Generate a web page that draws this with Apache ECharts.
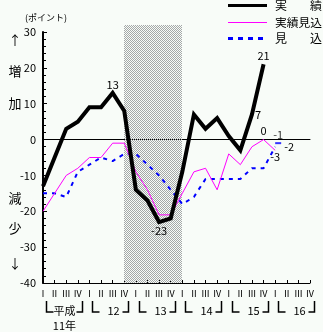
<!DOCTYPE html>
<html>
<head>
<meta charset="utf-8">
<script src="https://cdn.jsdelivr.net/npm/echarts@6/dist/echarts.min.js"></script>
<style>
  html, body { margin: 0; padding: 0; background: #f8fcf8; }
  #chart { width: 323px; height: 332px; }
</style>
</head>
<body>
<div id="chart"></div>
<script>
// Quarter tick labels, 平成11年 Ⅰ期 through 平成16年 Ⅳ期
const quarterLabels = [
  'Ⅰ','Ⅱ','Ⅲ','Ⅳ', 'Ⅰ','Ⅱ','Ⅲ','Ⅳ', 'Ⅰ','Ⅱ','Ⅲ','Ⅳ',
  'Ⅰ','Ⅱ','Ⅲ','Ⅳ', 'Ⅰ','Ⅱ','Ⅲ','Ⅳ', 'Ⅰ','Ⅱ','Ⅲ','Ⅳ'
];
const yearLabels = ['平成', '12', '13', '14', '15', '16'];
const yTicks = [-40, -30, -20, -10, 0, 10, 20, 30];

// 実績
const actualValues = [-13, -5, 3, 5, 9, 9, 13, 8, -14, -17, -23, -22, -9, 7, 3, 6, 1, -3, 7, 21, null, null, null, null];
// 実績見込
const estimateValues = [-20, -15, -10, -8, -5, -5, -1, -1, -9, -14, -21, -21, -15, -9, -8, -14, -4, -7, -2, 0, -3, null, null, null];
// 見込
const forecastValues = [-15, -15, -16, -9, -7, -5, -6, -4, -4, -7, -10, -14, -18, -16, -11, -11, -11, -11, -8, -8, -2, null, null, null];
// 見込 (前回) for the next quarter
const priorForecastValues = [null, null, null, null, null, null, null, null, null, null, null, null, null, null, null, null, null, null, null, null, -1, null, null, null];

// Labelled points: index -> [label position, distance]
const actualLabelAt = { 6: ['top', 3], 10: ['bottom', 3], 18: ['right', 3], 19: ['top', 3] };
const estimateLabelAt = { 19: ['top', 3], 20: ['bottom', 1] };
const forecastLabelAt = { 20: ['right', 9] };

// Recession band (index range on the quarter axis)
const bandFrom = 7, bandTo = 12;

const FONT = '"Noto Sans CJK JP", "DejaVu Sans", sans-serif';

// Labelled items get a tiny invisible symbol to carry their label
function withLabels(values, labelAt) {
  return values.map((v, i) => {
    if (labelAt[i] === undefined || v === null) return v;
    return {
      value: v,
      symbol: 'circle',
      symbolSize: 0.1,
      label: { show: true, position: labelAt[i][0], distance: labelAt[i][1],
               formatter: '{c}', color: '#000', fontSize: 11, fontFamily: FONT }
    };
  });
}

const chart = echarts.init(document.getElementById('chart'), null, { renderer: 'canvas' });

chart.setOption({
  animation: false,
  backgroundColor: '#f8fcf8',
  textStyle: { fontFamily: FONT },
  grid: { left: 43, right: 13, top: 32, bottom: 49, containLabel: false },
  legend: { show: false },
  xAxis: [
    {
      type: 'category',
      data: quarterLabels,
      boundaryGap: false,
      position: 'bottom',
      axisLine: { onZero: false, lineStyle: { color: '#000', width: 1 } },
      axisTick: { inside: true, length: 3, lineStyle: { color: '#000' } },
      axisLabel: { interval: 0, color: '#000', fontSize: 9, margin: 6, fontFamily: FONT },
      splitLine: { show: false }
    },
    {
      // zero reference line
      type: 'category',
      data: quarterLabels,
      boundaryGap: false,
      position: 'top',
      axisLine: { onZero: true, lineStyle: { color: '#000', width: 1 } },
      axisTick: { show: false },
      axisLabel: { show: false },
      splitLine: { show: false }
    }
  ],
  yAxis: {
    type: 'value',
    min: yTicks[0],
    max: yTicks[yTicks.length - 1],
    interval: 10,
    axisLine: { show: true, onZero: false, lineStyle: { color: '#000', width: 2 } },
    axisTick: { show: true, inside: true, length: 4, lineStyle: { color: '#000' } },
    minorTick: { show: true, splitNumber: 5, length: 3, lineStyle: { color: '#000' } },
    axisLabel: { color: '#000', fontSize: 11, margin: 7, fontFamily: FONT },
    splitLine: { show: false }
  },
  series: [
    {
      name: '見　　込',
      type: 'line',
      z: 3,
      data: withLabels(forecastValues, forecastLabelAt),
      symbol: 'none',
      lineStyle: { color: '#0000ff', width: 2, type: [4, 5] },
      itemStyle: { color: '#0000ff' }
    },
    {
      name: '見込(前回)',
      type: 'scatter',
      z: 3,
      data: priorForecastValues.map(v => v === null ? null : {
        value: v,
        label: { show: true, position: 'top', distance: 2, formatter: '{c}', color: '#000', fontSize: 11, fontFamily: FONT }
      }),
      symbol: 'rect',
      symbolSize: [6, 2],
      symbolOffset: [3, 0],
      itemStyle: { color: '#0000ff' }
    },
    {
      name: '実績見込',
      type: 'line',
      z: 4,
      data: withLabels(estimateValues, estimateLabelAt),
      symbol: 'none',
      lineStyle: { color: '#ff00ff', width: 1 },
      itemStyle: { color: '#ff00ff' }
    },
    {
      name: '実　　績',
      type: 'line',
      z: 5,
      data: withLabels(actualValues, actualLabelAt),
      symbol: 'none',
      lineStyle: { color: '#000', width: 4, join: 'miter' },
      itemStyle: { color: '#000' }
    }
  ]
});

// Checkered fill for the recession band
const pat = document.createElement('canvas');
pat.width = 2; pat.height = 2;
const pctx = pat.getContext('2d');
pctx.fillStyle = '#a4a8a8';
pctx.fillRect(0, 0, 1, 1);
pctx.fillRect(1, 1, 1, 1);

const xPix = i => chart.convertToPixel({ xAxisIndex: 0 }, i);
const yPix = v => chart.convertToPixel({ yAxisIndex: 0 }, v);

const bandLeft = Math.round(xPix(bandFrom));
const bandRight = Math.round(xPix(bandTo));
const bandTop = Math.round(yPix(yTicks[yTicks.length - 1])) - 7;
const bandBottom = Math.round(yPix(yTicks[0]));

const txt = (x, y, text, size, align) => ({
  type: 'text', x: x, y: y, silent: true,
  style: { text: text, fontSize: size, fill: '#000', fontFamily: FONT, align: align || 'center', verticalAlign: 'middle' }
});

const graphics = [
  {
    type: 'rect', z: 1, silent: true,
    shape: { x: bandLeft, y: bandTop, width: bandRight - bandLeft, height: bandBottom - bandTop },
    style: { fill: { image: pat, repeat: 'repeat' } }
  },
  { type: 'text', left: 25, top: 13, style: { text: '(ポイント)', fontSize: 9, fill: '#000', fontFamily: FONT } }
];

// Legend: line sample + name, one row per series
const legendRows = [
  { y: 5.5, stroke: '#000', width: 3, dash: null, name: ['実', '績'] },
  { y: 22.5, stroke: '#ff00ff', width: 1, dash: null, name: ['実績見込'] },
  { y: 38.5, stroke: '#0000ff', width: 3, dash: [5, 5], name: ['見', '込'] }
];
legendRows.forEach(r => {
  graphics.push({
    type: 'line', silent: true,
    shape: { x1: 228, y1: r.y, x2: 267, y2: r.y },
    style: { stroke: r.stroke, lineWidth: r.width, lineDash: r.dash }
  });
  if (r.name.length === 1) {
    graphics.push(txt(275, r.y, r.name[0], 11.75, 'left'));
  } else {
    graphics.push(txt(275, r.y, r.name[0], 12, 'left'));
    graphics.push(txt(322, r.y, r.name[1], 12, 'right'));
  }
});

// Side captions
[['↑', 40], ['増', 71], ['加', 103], ['減', 198], ['少', 228], ['↓', 263]].forEach(([t, y]) => {
  graphics.push(txt(15, y, t, 13));
});

// Year brackets under the quarter labels
const brTop = 301, brBot = 312;
yearLabels.forEach((name, k) => {
  const x1 = Math.round(xPix(4 * k)) + 3.5;
  const x2 = Math.round(xPix(4 * k + 3)) + 4.5;
  graphics.push({
    type: 'polyline', silent: true,
    shape: { points: [[x1, brTop], [x1, brBot], [x1 + 7, brBot]] },
    style: { stroke: '#000', lineWidth: 1.5, fill: null }
  });
  graphics.push({
    type: 'polyline', silent: true,
    shape: { points: [[x2 - 6, brBot], [x2, brBot], [x2, brTop]] },
    style: { stroke: '#000', lineWidth: 1.5, fill: null }
  });
  graphics.push(txt((x1 + x2) / 2 + (k === 0 ? 0 : 3), 311, name, 11));
});
graphics.push(txt((xPix(0) + xPix(3)) / 2 + 4, 326, '11年', 11));

chart.setOption({ graphic: graphics });
</script>
</body>
</html>
